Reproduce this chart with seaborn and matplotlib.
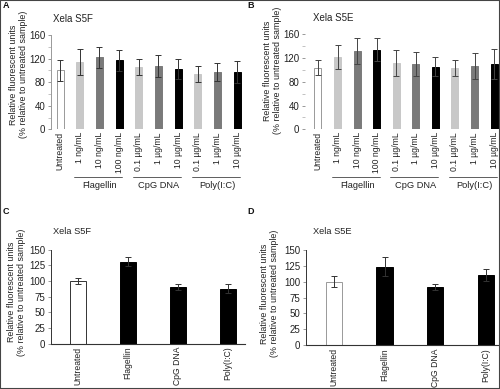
import matplotlib
matplotlib.use("Agg")
import matplotlib.pyplot as plt
import seaborn as sns
import numpy as np
import pandas as pd
from matplotlib.patches import Rectangle
import matplotlib.transforms as mtrans

sns.set_style("white")
plt.rcParams['font.family'] = ['Liberation Sans', 'DejaVu Sans']

# ---------------- data ----------------
conds_top = ["Untreated", "Flag 1", "Flag 10", "Flag 100", "CpG 0.1", "CpG 1", "CpG 10",
             "Poly 0.1", "Poly 1", "Poly 10"]
ticks_A = ["Untreated", "1 ng/mL", "10 ng/mL", "100 ng/mL", "0.1 µg/mL", "1 µg/mL", "10 µg/mL",
           "0.1 µg/mL", "1 µg/mL", "10 µg/mL"]
groups = ["Flagellin", "CpG DNA", "Poly(I:C)"]
group_span = [(1, 3), (4, 6), (7, 9)]

vals_A = [100, 114, 122, 117, 106, 107, 103, 94, 97, 97]
err_A = [18, 22, 18, 18, 14, 19, 17, 13, 15, 19]
vals_B = [104, 122, 132, 134, 112, 110, 105, 103, 107, 110]
err_B = [12, 20, 22, 19, 22, 21, 16, 13, 22, 26]

conds_bot = ["Untreated", "Flagellin", "CpG DNA", "Poly(I:C)"]
vals_C = [100, 131, 91, 88]
err_C = [5.5, 7.5, 5, 6.5]
vals_D = [100, 123, 91, 110]
err_D = [8, 15, 5, 9]

colors_top = ["#ffffff", "#c8c8c8", "#7a7a7a", "#000000", "#c8c8c8", "#7a7a7a", "#000000",
              "#c8c8c8", "#7a7a7a", "#000000"]
colors_bot = ["#ffffff", "#000000", "#000000", "#000000"]

W, H = 500, 389
fig = plt.figure(figsize=(5.0, 3.89), dpi=100)

def ax_px(x0, x1, ytop, ybot):
    return fig.add_axes([x0 / W, 1 - ybot / H, (x1 - x0) / W, (ybot - ytop) / H])

FS = 6.2
LFS = 6.4
TXT = "#222222"

def style_axis(ax, ymax, step, minor, show_x, show_left=True):
    ax.set_ylim(0, ymax)
    ax.set_yticks(np.arange(0, ymax + 1, step))
    if minor:
        ax.set_yticks(np.arange(step / 2, ymax, step), minor=True)
        ax.tick_params(axis='y', which='minor', length=2, width=0.5, color="#aaaaaa", left=True)
    for s in ["top", "right"]:
        ax.spines[s].set_visible(False)
    ax.spines["left"].set_color("#999999" if not show_x else "#333333")
    ax.spines["left"].set_linewidth(0.7)
    ax.spines["left"].set_visible(show_left)
    if show_x:
        ax.spines["bottom"].set_color("#333333")
        ax.spines["bottom"].set_linewidth(0.8)
    else:
        ax.spines["bottom"].set_visible(False)
    ax.tick_params(axis='y', which='major', length=2.5, width=0.6, color="#888888",
                   labelsize=7, labelcolor=TXT, pad=1.5, left=True)
    ax.tick_params(axis='x', length=0, labelsize=FS, labelcolor=TXT, pad=2)
    ax.set_xlabel("")

def draw(ax, conds, labels, vals, errs, colors, width, ecol):
    df = pd.DataFrame({"cond": conds, "val": vals})
    sns.barplot(data=df, x="cond", y="val", hue="cond", palette=colors, order=conds,
                hue_order=conds, width=width, legend=False, errorbar=None, ax=ax,
                saturation=1, linewidth=0.7)
    for p, c in zip(ax.patches, colors):
        p.set_edgecolor("#999999" if c == "#ffffff" else c)
    ax.errorbar(np.arange(len(conds)), vals, yerr=errs, fmt="none", ecolor=ecol,
                elinewidth=0.7, capsize=2, capthick=0.7, zorder=5)
    ax.set_xticks(np.arange(len(conds)))
    ax.set_xticklabels(labels, rotation=90, va="top", ha="center")

def groups_under(ax, ly, ty):
    tr = mtrans.blended_transform_factory(ax.transData, ax.transAxes)
    for g, (a, b) in zip(groups, group_span):
        ax.plot([a - 0.3, b + 0.15], [ly, ly], transform=tr, color="#444444", lw=0.6,
                clip_on=False)
        ax.text((a + b) / 2, ty, g, transform=tr, ha="center", va="center",
                fontsize=FS + 0.5, color=TXT)

ylab = "Relative fluorescent units\n(% relative to untreated sample)"

def set_ylab(ax, xr, yc):
    ax.set_ylabel(ylab, fontsize=LFS, color=TXT, linespacing=1.15)
    ax.yaxis.set_label_coords(xr, yc)

# Panel A
axA = ax_px(51, 245, 35, 129.3)
draw(axA, conds_top, ticks_A, vals_A, err_A, colors_top, 0.36, "#333333")
style_axis(axA, 160, 40, True, False)
axA.set_xlim(-0.46, 9.4)
set_ylab(axA, -0.12, 0.58)
groups_under(axA, -0.506, -0.60)
fig.text(53 / W, 1 - 19 / H, "Xela S5F", fontsize=FS + 0.8, color=TXT, va="center")

# Panel B
axB = ax_px(305, 500, 34.3, 129.3)
draw(axB, conds_top, ticks_A, vals_B, err_B, colors_top, 0.36, "#444444")
style_axis(axB, 160, 40, True, False, show_left=False)
axB.set_xlim(-0.66, 9.3)
set_ylab(axB, -0.118, 0.62)
groups_under(axB, -0.50, -0.59)
fig.text(313 / W, 1 - 18 / H, "Xela S5E", fontsize=FS + 0.8, color=TXT, va="center")

# Panel C
axC = ax_px(51, 245, 249.7, 343.7)
draw(axC, conds_bot, conds_bot, vals_C, err_C, colors_bot, 0.32, "#333333")
style_axis(axC, 150, 25, False, True)
axC.set_xlim(-0.53, 3.35)
set_ylab(axC, -0.13, 0.55)
axC.patches[0].set_edgecolor("#333333")
fig.text(53 / W, 1 - 232 / H, "Xela S5F", fontsize=FS + 0.5, color=TXT, va="center")

# Panel D
axD = ax_px(306, 500, 249.7, 345.3)
draw(axD, conds_bot, conds_bot, vals_D, err_D, colors_bot, 0.32, "#333333")
style_axis(axD, 150, 25, False, True)
axD.set_xlim(-0.55, 3.28)
set_ylab(axD, -0.14, 0.54)
fig.text(313 / W, 1 - 232 / H, "Xela S5E", fontsize=FS + 0.5, color=TXT, va="center")

# panel letters
for lab, x, y in [("A", 3, 6), ("B", 247, 6), ("C", 3, 212), ("D", 247, 212)]:
    fig.text(x / W, 1 - y / H, lab, fontsize=6.5, fontweight="bold", color="#111111",
             va="center", ha="left")

fig.patches.append(Rectangle((0, 0), 1, 1, transform=fig.transFigure, fill=False,
                             edgecolor="#444444", lw=1.5))

fig.savefig("out.png", dpi=100)
